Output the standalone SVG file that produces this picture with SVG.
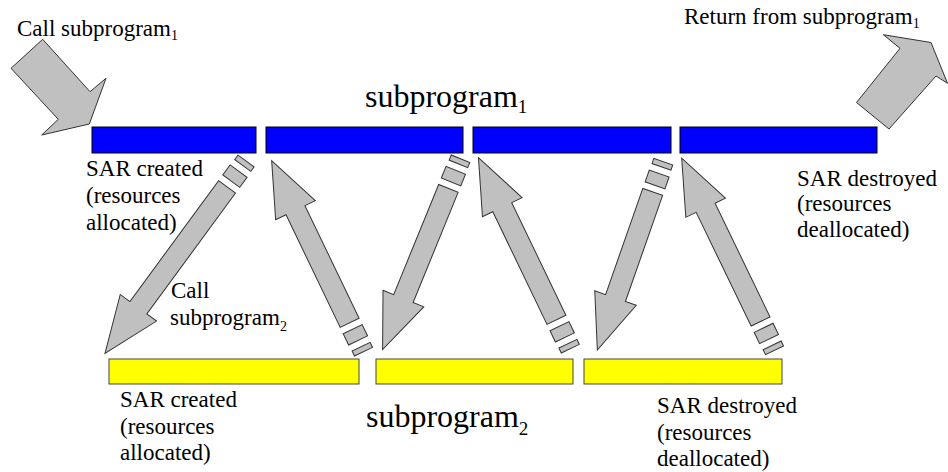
<svg xmlns="http://www.w3.org/2000/svg" width="948" height="472" viewBox="0 0 948 472">
<style>
.t{font-size:23px;fill:#000}
.ttl{font-size:32px;fill:#000}
.blue{fill:#0000ff;stroke:#000;stroke-width:1}
.yel{fill:#ffff00;stroke:#444;stroke-width:1}
.ar{fill:#c0c0c0;stroke:#333;stroke-width:1;stroke-linejoin:miter}
</style>
<rect width="948" height="472" fill="#fff"/>
<g id="sub1">
<rect class="blue" x="92" y="127" width="164" height="26"/>
<rect class="blue" x="266" y="127" width="197" height="26"/>
<rect class="blue" x="473" y="127" width="198" height="26"/>
<rect class="blue" x="680" y="127" width="197" height="26"/>
<text class="ttl" font-family="Liberation Serif" x="365" y="107">subprogram<tspan font-size="19" dy="6">1</tspan></text>
</g>
<g id="sub2">
<rect class="yel" x="109" y="359" width="250" height="25"/>
<rect class="yel" x="376" y="359" width="197" height="25"/>
<rect class="yel" x="584" y="359" width="198" height="25"/>
<text class="ttl" font-family="Liberation Serif" x="366" y="427">subprogram<tspan font-size="19" dy="8">2</tspan></text>
</g>
<g id="labels">
<text class="t" font-family="Liberation Serif" x="17" y="36">Call subprogram<tspan font-size="14" dy="4">1</tspan></text>
<text class="t" font-family="Liberation Serif" x="684" y="24">Return from subprogram<tspan font-size="14" dy="4">1</tspan></text>
<text class="t" font-family="Liberation Serif" x="86" y="176">SAR created</text>
<text class="t" font-family="Liberation Serif" x="86" y="203">(resources</text>
<text class="t" font-family="Liberation Serif" x="86" y="230">allocated)</text>
<text class="t" font-family="Liberation Serif" x="797" y="186">SAR destroyed</text>
<text class="t" font-family="Liberation Serif" x="797" y="211">(resources</text>
<text class="t" font-family="Liberation Serif" x="797" y="237">deallocated)</text>
<text class="t" font-family="Liberation Serif" x="171" y="298">Call</text>
<text class="t" font-family="Liberation Serif" x="170" y="325">subprogram<tspan font-size="14" dy="6">2</tspan></text>
<text class="t" font-family="Liberation Serif" x="120" y="407">SAR created</text>
<text class="t" font-family="Liberation Serif" x="120" y="434">(resources</text>
<text class="t" font-family="Liberation Serif" x="120" y="460">allocated)</text>
<text class="t" font-family="Liberation Serif" x="657" y="413">SAR destroyed</text>
<text class="t" font-family="Liberation Serif" x="657" y="440">(resources</text>
<text class="t" font-family="Liberation Serif" x="657" y="466">deallocated)</text>
</g>
<g id="connectors">
<polygon class="ar" points="42.7,39.3 90,91.7 106,78.3 89.3,124 41.7,135 58.3,119.3 11,68.3"/>
<polygon class="ar" points="883.3,34.7 900,48.3 856.5,102.5 889,129 936,76 947.5,83.3 931,42.5"/>
<g transform="translate(246,161) rotate(126.25)">
<rect class="ar" x="0" y="-10" width="5.5" height="20"/>
<rect class="ar" x="12.5" y="-10.5" width="12.5" height="21"/>
<polygon class="ar" points="32,-10.5 182,-10.5 182,-22.5 238.5,0 182,22.5 182,10.5 32,10.5"/>
</g>
<g transform="translate(363.5,351.7) rotate(-115.67)">
<rect class="ar" x="0" y="-10" width="5.5" height="20"/>
<rect class="ar" x="12.5" y="-10.5" width="12.5" height="21"/>
<polygon class="ar" points="32,-10.5 157,-10.5 157,-22 212,0 157,22 157,10.5 32,10.5"/>
</g>
<g transform="translate(460.5,158.8) rotate(112.22)">
<rect class="ar" x="0" y="-10" width="5.5" height="20"/>
<rect class="ar" x="12.5" y="-10.5" width="12.5" height="21"/>
<polygon class="ar" points="32,-10.5 151,-10.5 151,-22 206,0 151,22 151,10.5 32,10.5"/>
</g>
<g transform="translate(570.3,348.7) rotate(-115.67)">
<rect class="ar" x="0" y="-10" width="5.5" height="20"/>
<rect class="ar" x="12.5" y="-10.5" width="12.5" height="21"/>
<polygon class="ar" points="32,-10.5 157,-10.5 157,-22 212,0 157,22 157,10.5 32,10.5"/>
</g>
<g transform="translate(663.3,161.7) rotate(109.31)">
<rect class="ar" x="0" y="-10" width="5.5" height="20"/>
<rect class="ar" x="12.5" y="-10.5" width="12.5" height="21"/>
<polygon class="ar" points="32,-10.5 144.5,-10.5 144.5,-22 199.5,0 144.5,22 144.5,10.5 32,10.5"/>
</g>
<g transform="translate(774.5,350.3) rotate(-115.79)">
<rect class="ar" x="0" y="-10" width="5.5" height="20"/>
<rect class="ar" x="12.5" y="-10.5" width="12.5" height="21"/>
<polygon class="ar" points="32,-10.5 158.3,-10.5 158.3,-22 213.3,0 158.3,22 158.3,10.5 32,10.5"/>
</g>
</g>
</svg>
